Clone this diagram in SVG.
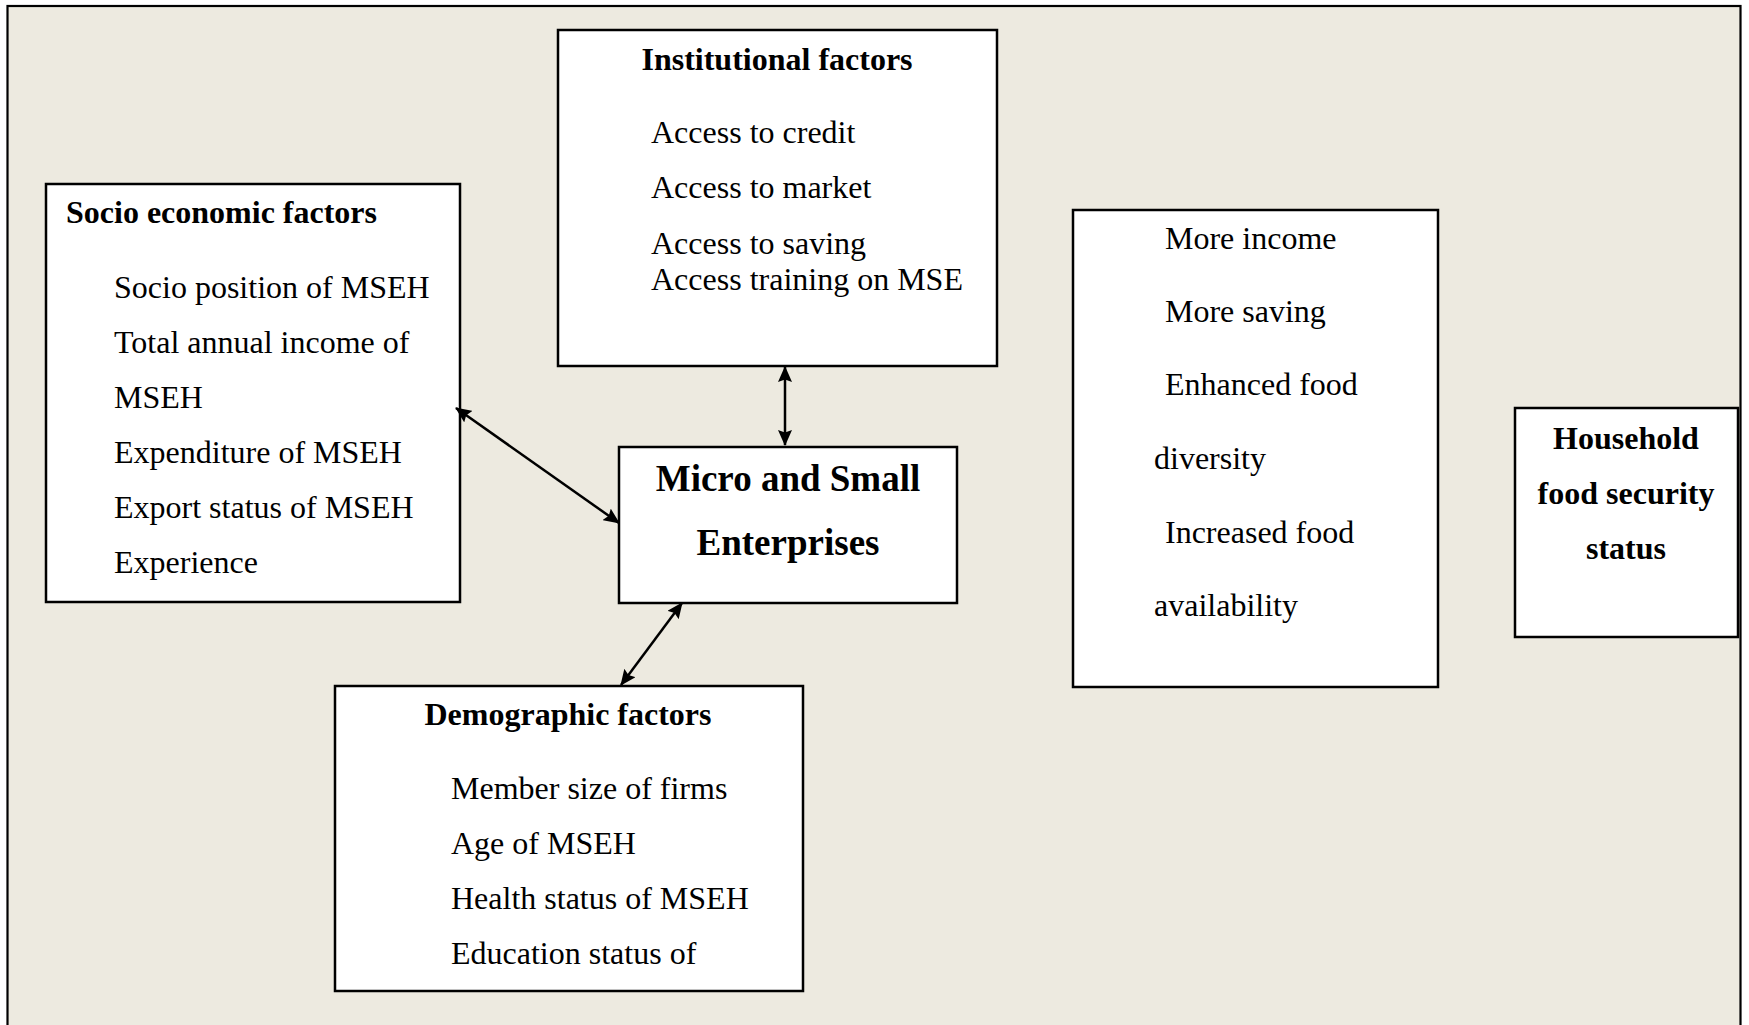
<svg xmlns="http://www.w3.org/2000/svg" width="1749" height="1025" viewBox="0 0 1749 1025">
<style>
.box{fill:#ffffff;stroke:#000000;stroke-width:2.5}
.t{font-family:"Liberation Serif","Times New Roman",serif;font-size:32px;fill:#000000}
.b{font-weight:bold}
.c{text-anchor:middle}
.big{font-size:37px}
.con{stroke:#000000;stroke-width:2.5;fill:none;marker-start:url(#ah);marker-end:url(#ah)}
</style>
<defs>
<marker id="ah" viewBox="0 0 16 14" refX="15" refY="7" markerWidth="16" markerHeight="14" markerUnits="userSpaceOnUse" orient="auto-start-reverse">
<path d="M0,0 L16,7 L0,14 L2.5,7 Z" fill="#000000"/>
</marker>
</defs>
<rect x="0" y="0" width="1749" height="1025" fill="#ffffff"/>
<rect id="frame" x="7.5" y="6" width="1733" height="1030" fill="#EDEAE0" stroke="#000000" stroke-width="2.2"/>

<g id="institutional">
<rect class="box" x="558" y="30" width="439" height="336"/>
<text class="t b c" x="777" y="70">Institutional factors</text>
<text class="t" x="651" y="143">Access to credit</text>
<text class="t" x="651" y="198">Access to market</text>
<text class="t" x="651" y="254">Access to saving</text>
<text class="t" x="651" y="290">Access training on MSE</text>
</g>

<g id="socio">
<rect class="box" x="46" y="184" width="414" height="418"/>
<text class="t b" x="66" y="223">Socio economic factors</text>
<text class="t" x="114" y="298">Socio position of MSEH</text>
<text class="t" x="114" y="353">Total annual income of</text>
<text class="t" x="114" y="408">MSEH</text>
<text class="t" x="114" y="463">Expenditure of MSEH</text>
<text class="t" x="114" y="518">Export status of MSEH</text>
<text class="t" x="114" y="573">Experience</text>
</g>

<g id="mse">
<rect class="box" x="619" y="447" width="338" height="156"/>
<text class="t b c big" x="788" y="491">Micro and Small</text>
<text class="t b c big" x="788" y="555">Enterprises</text>
</g>

<g id="demographic">
<rect class="box" x="335" y="686" width="468" height="305"/>
<text class="t b c" x="568" y="725">Demographic factors</text>
<text class="t" x="451" y="799">Member size of firms</text>
<text class="t" x="451" y="854">Age of MSEH</text>
<text class="t" x="451" y="909">Health status of MSEH</text>
<text class="t" x="451" y="964">Education status of</text>
</g>

<g id="outcomes">
<rect class="box" x="1073" y="210" width="365" height="477"/>
<text class="t" x="1165" y="249">More income</text>
<text class="t" x="1165" y="322">More saving</text>
<text class="t" x="1165" y="395">Enhanced food</text>
<text class="t" x="1154" y="469">diversity</text>
<text class="t" x="1165" y="543">Increased food</text>
<text class="t" x="1154" y="616">availability</text>
</g>

<g id="household">
<rect class="box" x="1515" y="408" width="223" height="229"/>
<text class="t b c" x="1626" y="449">Household</text>
<text class="t b c" x="1626" y="504">food security</text>
<text class="t b c" x="1626" y="559">status</text>
</g>

<g id="connectors">
<line class="con" x1="785" y1="367" x2="785" y2="445"/>
<line class="con" x1="456" y1="408" x2="619" y2="523"/>
<line class="con" x1="682" y1="603" x2="621" y2="685"/>
</g>
</svg>
